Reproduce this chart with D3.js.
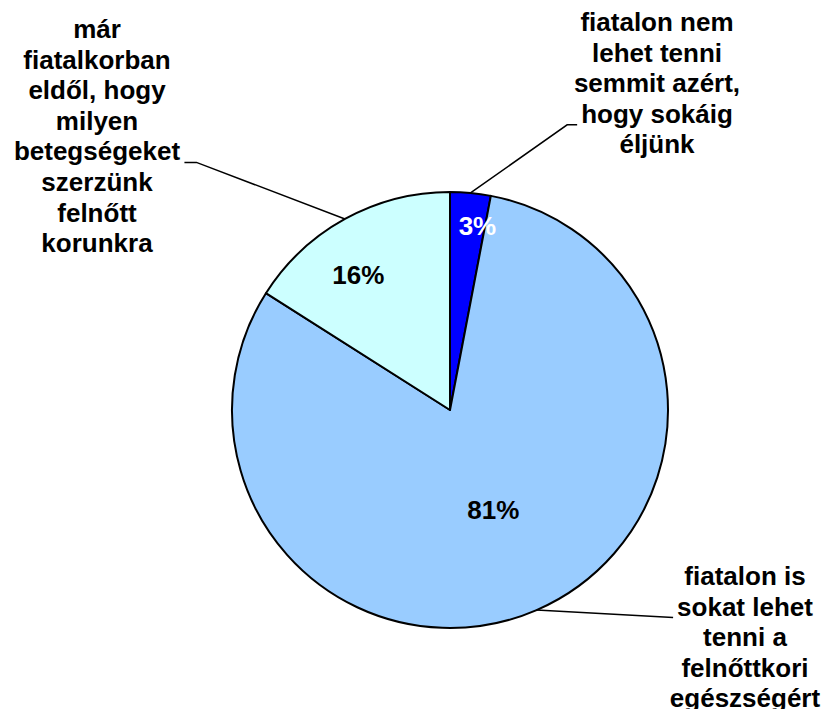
<!DOCTYPE html>
<html>
<head>
<meta charset="utf-8">
<script src="https://cdn.jsdelivr.net/npm/d3@7"></script>
<style>
body { margin: 0; background: #fff; }
svg text { font-family: "Liberation Sans", Arial, sans-serif; font-weight: bold; }
</style>
</head>
<body>
<div id="chart"></div>
<script>
// slice data, clockwise from 12 o'clock
const categories = [
  ["fiatalon nem", "lehet tenni", "semmit azért,", "hogy sokáig", "éljünk"],
  ["fiatalon is", "sokat lehet", "tenni a", "felnőttkori", "egészségért"],
  ["már", "fiatalkorban", "eldől, hogy", "milyen", "betegségeket", "szerzünk", "felnőtt", "korunkra"]
];
const values = [3, 81, 16];
const colors = ["#0000FF", "#99CCFF", "#CCFFFF"];
const pctColors = ["#FFFFFF", "#000000", "#000000"];

const W = 825, H = 709;
const cx = 450, cy = 410, R = 218;
const fontSize = 26, lineH = 30.6;

// label layout (center x, first baseline, leader line index, side, elbow length)
const catLayout = [
  { x: 657, y: 31, line: 3, side: "left", elbow: 10 },
  { x: 745, y: 585, line: 1, side: "left", elbow: 0 },
  { x: 97, y: 38, line: 4, side: "right", elbow: 12 }
];
// percentage labels: radius fraction and nudge
const pctLayout = [
  { r: 0.85, dx: 10, dy: 0 },
  { r: 0.5, dx: 0, dy: 0 },
  { r: 0.75, dx: -13, dy: 8 }
];

const svg = d3.select("#chart").append("svg")
  .attr("width", W).attr("height", H);

const pie = d3.pie().sort(null).value(d => d);
const arcs = pie(values);
const arc = d3.arc().innerRadius(0).outerRadius(R);

const g = svg.append("g").attr("transform", `translate(${cx},${cy})`);

g.selectAll("path.slice")
  .data(arcs)
  .enter().append("path")
  .attr("class", "slice")
  .attr("d", arc)
  .attr("fill", (d, i) => colors[i])
  .attr("stroke", "#000")
  .attr("stroke-width", 2)
  .attr("stroke-linejoin", "round");

// percentage labels
g.selectAll("text.pct")
  .data(arcs)
  .enter().append("text")
  .attr("class", "pct")
  .attr("transform", (d, i) => {
    const a = d3.arc().innerRadius(R * pctLayout[i].r).outerRadius(R * pctLayout[i].r);
    const c = a.centroid(d);
    return `translate(${c[0] + pctLayout[i].dx},${c[1] + pctLayout[i].dy})`;
  })
  .attr("text-anchor", "middle")
  .attr("dy", "0.36em")
  .attr("font-size", fontSize)
  .attr("fill", (d, i) => pctColors[i])
  .text(d => Math.round(d.value / d3.sum(values) * 100) + "%");

// category labels + leader lines
const edge = d3.arc().innerRadius(R).outerRadius(R);
arcs.forEach((d, i) => {
  const L = catLayout[i];
  const t = svg.append("text")
    .attr("text-anchor", "middle")
    .attr("font-size", fontSize)
    .attr("fill", "#000");
  const spans = t.selectAll("tspan")
    .data(categories[i])
    .enter().append("tspan")
    .attr("x", L.x)
    .attr("y", (s, k) => L.y + k * lineH)
    .text(s => s);

  const bb = spans.nodes()[L.line].getBBox();
  const ly = L.y + L.line * lineH + 2;
  const ex = L.side === "left" ? bb.x - 4 : bb.x + bb.width + 4;
  const bx = L.side === "left" ? ex - L.elbow : ex + L.elbow;
  const p = edge.centroid(d);
  svg.append("polyline")
    .attr("points", [[cx + p[0], cy + p[1]], [bx, ly], [ex, ly]].map(q => q.join(",")).join(" "))
    .attr("fill", "none")
    .attr("stroke", "#000")
    .attr("stroke-width", 1.5);
});
</script>
</body>
</html>
